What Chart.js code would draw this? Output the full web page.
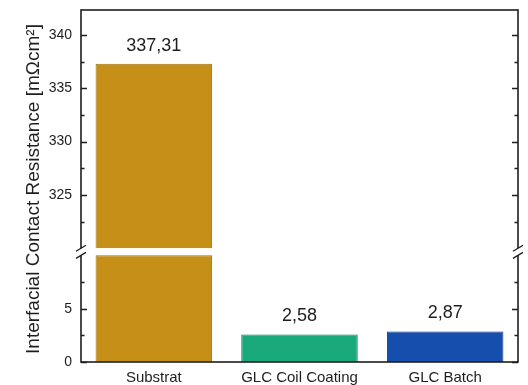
<!DOCTYPE html>
<html>
<head>
<meta charset="utf-8">
<script src="https://cdn.jsdelivr.net/npm/chart.js@4.4.1/dist/chart.umd.min.js"></script>
<style>
  html, body { margin: 0; padding: 0; background: #fff; }
  #c { display: block; }
</style>
</head>
<body>
<canvas id="c" width="528" height="385"></canvas>
<script>
// Interfacial contact resistance per sample, drawn on a broken y axis
const categories = ['Substrat', 'GLC Coil Coating', 'GLC Batch'];
const resistance = [337.31, 2.58, 2.87];

// The two axis segments (value ranges) and where bars are cut at the break
const lowerRange = [0, 10.33];
const upperRange = [319.67, 342.34];
const lowerCap = 10;
const upperFloor = 320;

const lowerMajorTicks = [0, 5];
const lowerMinorTicks = [2.5, 7.5];
const upperMajorTicks = [325, 330, 335, 340];
const upperMinorTicks = [322.5, 327.5, 332.5, 337.5];

const barColors = ['#C68F17', '#19A97A', '#154EAC'];
const barBorders = ['#A0730E', '#138A62', '#0E3B88'];

const yTitle = 'Interfacial Contact Resistance [m\u03A9cm\u00B2]';
const FONT = "'Liberation Sans', Arial, Helvetica, sans-serif";
const INK = '#1e1e1e';

function formatValue(v) {
  return v.toFixed(2).replace('.', ',');
}

// Bars of the lower segment stop at the cap; the upper segment holds floating bars
const lowerData = resistance.map(v => Math.min(v, lowerCap));
const upperData = resistance.map(v => (v > upperFloor ? [upperFloor, v] : null));

const brokenAxisDecor = {
  id: 'brokenAxisDecor',
  afterDatasetsDraw(chart) {
    const ctx = chart.ctx;
    const area = chart.chartArea;
    const yLow = chart.scales.yLow;
    const yHigh = chart.scales.yHigh;
    ctx.save();

    // frame
    ctx.strokeStyle = INK;
    ctx.lineWidth = 1.6;
    ctx.strokeRect(area.left, area.top, area.right - area.left, area.bottom - area.top);

    // inward tick marks on both sides
    const drawTicks = (scale, values, len) => {
      ctx.lineWidth = 1.3;
      ctx.beginPath();
      values.forEach(v => {
        const y = Math.round(scale.getPixelForValue(v)) + 0.5;
        ctx.moveTo(area.left, y); ctx.lineTo(area.left + len, y);
        ctx.moveTo(area.right, y); ctx.lineTo(area.right - len, y);
      });
      ctx.stroke();
    };
    drawTicks(yLow, lowerMajorTicks, 6);
    drawTicks(yHigh, upperMajorTicks, 6);
    drawTicks(yLow, lowerMinorTicks, 3.5);
    drawTicks(yHigh, upperMinorTicks, 3.5);

    // axis break
    const gapTop = yHigh.getPixelForValue(upperFloor);
    const gapBottom = yLow.getPixelForValue(lowerCap);
    [area.left, area.right].forEach(x => {
      ctx.fillStyle = '#ffffff';
      ctx.fillRect(x - 3, gapTop, 6, gapBottom - gapTop);
      ctx.strokeStyle = INK;
      ctx.lineWidth = 1.3;
      ctx.beginPath();
      [gapTop, gapBottom].forEach(y => {
        ctx.moveTo(x - 5, y + 3);
        ctx.lineTo(x + 5, y - 3);
      });
      ctx.stroke();
    });

    // value labels above each bar
    const lowMeta = chart.getDatasetMeta(0);
    const highMeta = chart.getDatasetMeta(1);
    ctx.fillStyle = INK;
    ctx.font = '18px ' + FONT;
    ctx.textAlign = 'center';
    ctx.textBaseline = 'middle';
    resistance.forEach((v, i) => {
      const el = v > upperFloor ? highMeta.data[i] : lowMeta.data[i];
      ctx.fillText(formatValue(v), el.x, el.y - 18);
    });

    // y axis title
    ctx.save();
    ctx.translate(34, (area.top + area.bottom) / 2 + 3);
    ctx.rotate(-Math.PI / 2);
    ctx.font = '19px ' + FONT;
    ctx.fillStyle = INK;
    ctx.textAlign = 'center';
    ctx.textBaseline = 'middle';
    ctx.fillText(yTitle, 0, 0);
    ctx.restore();

    ctx.restore();
  }
};

const yCommon = {
  type: 'linear',
  position: 'left',
  stack: 'resistance',
  grid: { display: false, drawTicks: false },
  border: { display: false },
  ticks: { padding: 9, color: INK, font: { family: FONT, size: 14 } },
  afterFit(scale) {
    scale.width = 81;
    scale.paddingTop = 0;
    scale.paddingBottom = 0;
  }
};

new Chart(document.getElementById('c'), {
  type: 'bar',
  data: {
    labels: categories,
    datasets: [
      {
        data: lowerData,
        yAxisID: 'yLow',
        backgroundColor: barColors,
        borderColor: barBorders,
        borderWidth: 1,
        grouped: false,
        barPercentage: 0.8,
        categoryPercentage: 1
      },
      {
        data: upperData,
        yAxisID: 'yHigh',
        backgroundColor: barColors,
        borderColor: barBorders,
        borderWidth: 1,
        grouped: false,
        barPercentage: 0.8,
        categoryPercentage: 1
      }
    ]
  },
  options: {
    responsive: false,
    animation: false,
    devicePixelRatio: 1,
    layout: { padding: { top: 10, right: 10, bottom: 0, left: 0 } },
    plugins: { legend: { display: false }, tooltip: { enabled: false } },
    scales: {
      x: {
        type: 'category',
        grid: { display: false, drawTicks: false },
        border: { display: false },
        ticks: { padding: 7, color: INK, font: { family: FONT, size: 15 } },
        afterFit(scale) {
          scale.height = 23;
          scale.paddingLeft = 0;
          scale.paddingRight = 0;
        }
      },
      yLow: Object.assign({}, yCommon, {
        min: lowerRange[0],
        max: lowerRange[1],
        stackWeight: lowerRange[1] - lowerRange[0],
        afterBuildTicks(scale) { scale.ticks = lowerMajorTicks.map(v => ({ value: v })); }
      }),
      yHigh: Object.assign({}, yCommon, {
        min: upperRange[0],
        max: upperRange[1],
        stackWeight: upperRange[1] - upperRange[0],
        afterBuildTicks(scale) { scale.ticks = upperMajorTicks.map(v => ({ value: v })); }
      })
    }
  },
  plugins: [brokenAxisDecor]
});
</script>
</body>
</html>
